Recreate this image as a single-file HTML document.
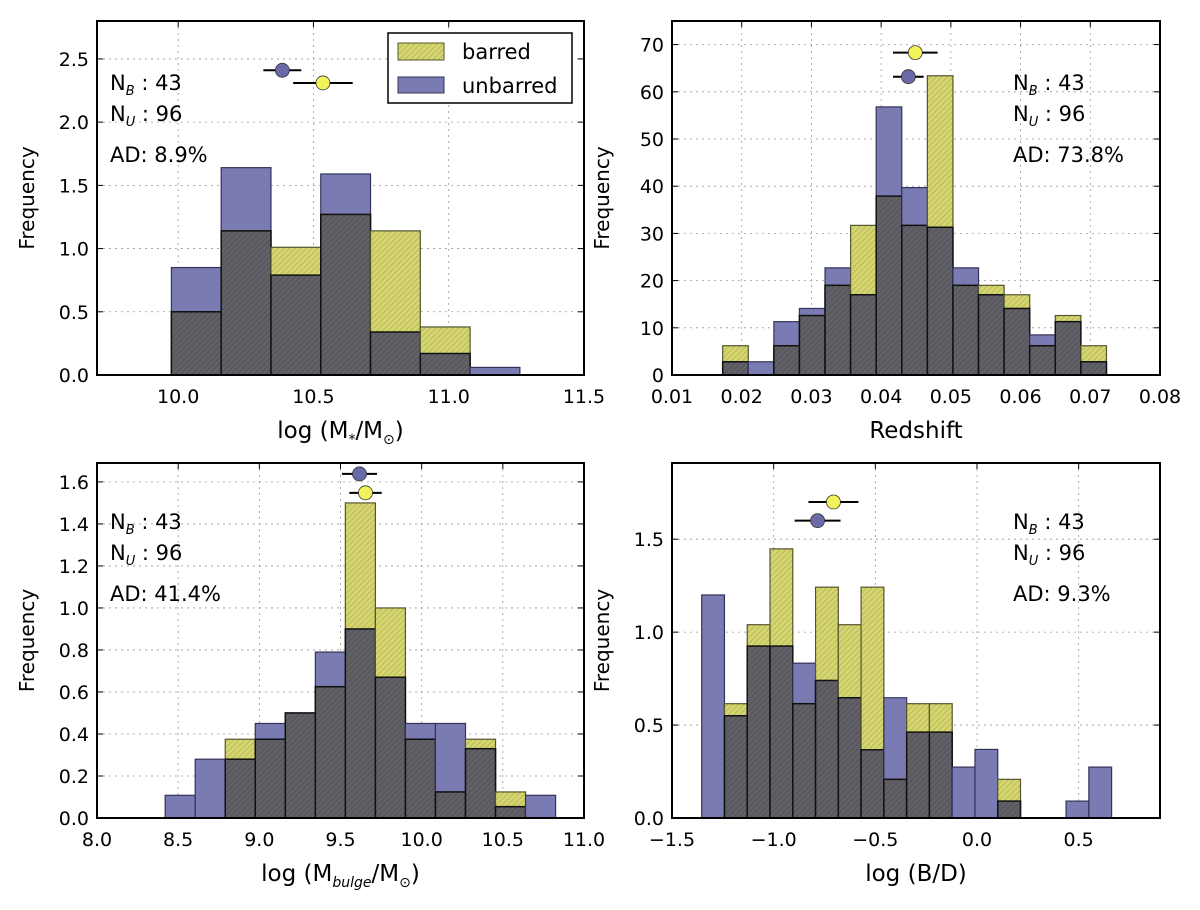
<!DOCTYPE html>
<html><head><meta charset="utf-8"><style>
body{margin:0;background:#fff}
svg{display:block;font-family:"DejaVu Sans","Liberation Sans",sans-serif}
</style></head><body>
<svg id="fig" width="1200" height="910" viewBox="0 0 1200 910" xmlns="http://www.w3.org/2000/svg">
<defs>
<pattern id="hatchY" width="4" height="4" patternUnits="userSpaceOnUse" patternTransform="rotate(45)">
<rect width="4" height="4" fill="#d6d670"/><line x1="0" y1="0" x2="0" y2="4" stroke="#a8a850" stroke-width="1.2"/></pattern>
<pattern id="hatchG" width="4" height="4" patternUnits="userSpaceOnUse" patternTransform="rotate(45)">
<rect width="4" height="4" fill="#606066"/><line x1="0" y1="0" x2="0" y2="4" stroke="#4a4a50" stroke-width="1.2"/></pattern>
</defs>
</svg>
<script>
// Panel 1: stellar mass
const p1Start = 9.975, p1Width = 0.184;
const p1Unbarred = [0.85, 1.64, 0.79, 1.59, 0.34, 0.17, 0.06];
const p1Barred = [0.50, 1.14, 1.01, 1.27, 1.14, 0.38, 0];
const p1PointsX = [10.385, 10.535];
const p1PointsY = [2.41, 2.31];
const p1Err = [0.07, 0.11];
const p1XTicks = ["10.0", "10.5", "11.0", "11.5"];
const p1YTicks = ["0.0", "0.5", "1.0", "1.5", "2.0", "2.5"];
// Panel 2: redshift
const p2Start = 0.01727, p2Width = 0.00367;
const p2Unbarred = [2.8, 2.8, 11.3, 14.1, 22.7, 17, 56.8, 39.7, 31.3, 22.7, 17, 14.1, 8.5, 11.3, 2.8];
const p2Barred = [6.2, 0, 6.2, 12.6, 19, 31.7, 37.9, 31.7, 63.4, 19, 19, 17, 6.2, 12.6, 6.2];
const p2PointsX = [0.0439, 0.0449];
const p2PointsY = [63.2, 68.3];
const p2Err = [0.0022, 0.0032];
const p2XTicks = ["0.01", "0.02", "0.03", "0.04", "0.05", "0.06", "0.07", "0.08"];
const p2YTicks = ["0", "10", "20", "30", "40", "50", "60", "70"];
// Panel 3: bulge mass
const p3Start = 8.42, p3Width = 0.185;
const p3Unbarred = [0.108, 0.28, 0.28, 0.45, 0.50, 0.79, 0.90, 0.67, 0.45, 0.45, 0.33, 0.054, 0.108];
const p3Barred = [0, 0, 0.375, 0.375, 0.50, 0.625, 1.50, 1.0, 0.375, 0.124, 0.375, 0.124, 0];
const p3PointsX = [9.617, 9.654];
const p3PointsY = [1.638, 1.548];
const p3Err = [0.108, 0.10];
const p3XTicks = ["8.0", "8.5", "9.0", "9.5", "10.0", "10.5", "11.0"];
const p3YTicks = ["0.0", "0.2", "0.4", "0.6", "0.8", "1.0", "1.2", "1.4", "1.6"];
// Panel 4: B/D
const p4Start = -1.354, p4Width = 0.112;
const p4Unbarred = [1.20, 0.55, 0.925, 0.925, 0.833, 0.74, 0.647, 0.367, 0.647, 0.462, 0.462, 0.274, 0.369, 0.091, 0, 0, 0.091, 0.274];
const p4Barred = [0, 0.615, 1.04, 1.448, 0.615, 1.242, 1.04, 1.242, 0.208, 0.615, 0.615, 0, 0, 0.208, 0, 0, 0, 0];
const p4PointsX = [-0.784, -0.706];
const p4PointsY = [1.60, 1.70];
const p4Err = [0.113, 0.123];
const p4XTicks = ["\u22121.5", "\u22121.0", "\u22120.5", "0.0", "0.5"];
const p4YTicks = ["0.0", "0.5", "1.0", "1.5"];

const NS = "http://www.w3.org/2000/svg";
const svg = document.getElementById('fig');
function mk(tag, attrs, parent) {
  const e = document.createElementNS(NS, tag);
  for (const k in attrs) e.setAttribute(k, attrs[k]);
  (parent || svg).appendChild(e);
  return e;
}

function panel(cfg) {
  const g = mk('g', {});
  
  
  const L = cfg.L, R = cfg.R, T = cfg.T, B = cfg.B;
  const xs = v => L + (v - cfg.xmin) / (cfg.xmax - cfg.xmin) * (R - L);
  const ys = v => B - (v - cfg.ymin) / (cfg.ymax - cfg.ymin) * (B - T);
  cfg.xTicks.forEach(t => {
    const v = parseFloat(t.replace('\u2212', '-')); const x = xs(v);
    const gl = mk('line', {x1: x, x2: x, y1: T, y2: B, stroke: '#999', 'stroke-width': 0.8, 'stroke-dasharray': '2,4'}, g);
    
    
    mk('line', {x1: x, x2: x, y1: B, y2: B - 6, stroke: '#000', 'stroke-width': 1}, g);
    mk('line', {x1: x, x2: x, y1: T, y2: T + 6, stroke: '#000', 'stroke-width': 1}, g);
    const tl = mk('text', {x: x, y: B + 28, 'font-size': 19, 'text-anchor': 'middle', fill: '#000'}, g);
    tl.textContent = t;
    
    
  });
  cfg.yTicks.forEach(t => {
    const v = parseFloat(t); const y = ys(v);
    const gl = mk('line', {x1: L, x2: R, y1: y, y2: y, stroke: '#999', 'stroke-width': 0.8, 'stroke-dasharray': '2,4'}, g);
    
    
    mk('line', {x1: L, x2: L + 6, y1: y, y2: y, stroke: '#000', 'stroke-width': 1}, g);
    mk('line', {x1: R, x2: R - 6, y1: y, y2: y, stroke: '#000', 'stroke-width': 1}, g);
    const tl = mk('text', {x: L - 8, y: y + 7, 'font-size': 19, 'text-anchor': 'end', fill: '#000'}, g);
    tl.textContent = t;
    
    
  });
  cfg.unbarred.forEach((u, i) => {
    const b = cfg.barred[i];
    const x0 = xs(cfg.start + i * cfg.width), x1 = xs(cfg.start + (i + 1) * cfg.width);
    if (u > 0) {
      const r = mk('rect', {x: x0, y: ys(u), width: x1 - x0, height: B - ys(u), fill: '#7b7bb3', stroke: '#33335a', 'stroke-width': 1.2}, g);
      
      
    }
    if (b > 0) {
      const r = mk('rect', {x: x0, y: ys(b), width: x1 - x0, height: B - ys(b), fill: 'url(#hatchY)', stroke: '#555530', 'stroke-width': 1.2}, g);
      
      
    }
    const m = Math.min(u, b);
    if (m > 0) {
      const r = mk('rect', {x: x0, y: ys(m), width: x1 - x0, height: B - ys(m), fill: 'url(#hatchG)', stroke: '#111', 'stroke-width': 1.5}, g);
      
      
    }
  });
  const cols = ['#6a6aa8', '#f2f25a'];
  cfg.px.forEach((px, i) => {
    const y = ys(cfg.py[i]);
    const el = mk('line', {x1: xs(px - cfg.err[i]), x2: xs(px + cfg.err[i]), y1: y, y2: y, stroke: '#000', 'stroke-width': 2}, g);
    
    
    const c = mk('circle', {cx: xs(px), cy: y, r: 7, fill: cols[i], stroke: '#333', 'stroke-width': 0.8}, g);
    
    
  });
  const fr = mk('rect', {x: L, y: T, width: R - L, height: B - T, fill: 'none', stroke: '#000', 'stroke-width': 2}, g);
  
  
  const tx = cfg.tx, ty = cfg.ty;
  const a = mk('text', {x: tx, y: ty, 'font-size': 21, fill: '#000'}, g);
  a.innerHTML = 'N<tspan font-size="13" font-style="italic" dy="5">B</tspan><tspan dy="-5"> : 43</tspan>';
  
  
  const b2 = mk('text', {x: tx, y: ty + 31, 'font-size': 21, fill: '#000'}, g);
  b2.innerHTML = 'N<tspan font-size="13" font-style="italic" dy="5">U</tspan><tspan dy="-5"> : 96</tspan>';
  
  
  const c2 = mk('text', {x: tx, y: ty + 72, 'font-size': 21, fill: '#000'}, g);
  c2.textContent = cfg.ad;
  
  
  const xl = mk('text', {x: (L + R) / 2, y: B + 63, 'font-size': 23, 'text-anchor': 'middle', fill: '#000'}, g);
  xl.innerHTML = cfg.xlabel;
  
  
  const yl = mk('text', {x: 0, y: 0, 'font-size': 20, 'text-anchor': 'middle', fill: '#000', transform: `translate(${L - 63},${(T + B) / 2}) rotate(-90)`}, g);
  yl.textContent = 'Frequency';
  
  
  return g;
}

panel({name: 'stellar-mass-panel', L: 97, R: 584, T: 21, B: 375, xmin: 9.7, xmax: 11.5, ymin: 0, ymax: 2.8,
  start: p1Start, width: p1Width, unbarred: p1Unbarred, barred: p1Barred, px: p1PointsX, py: p1PointsY, err: p1Err,
  xTicks: p1XTicks, yTicks: p1YTicks, tx: 110, ty: 90, ad: 'AD: 8.9%',
  xlabel: 'log (M<tspan font-size="14" font-style="italic" dy="6">*</tspan><tspan dy="-6">/M</tspan><tspan font-size="14" dy="6">\u2299</tspan><tspan dy="-6">)</tspan>'});
panel({name: 'redshift-panel', L: 672, R: 1160, T: 21, B: 375, xmin: 0.01, xmax: 0.08, ymin: 0, ymax: 75,
  start: p2Start, width: p2Width, unbarred: p2Unbarred, barred: p2Barred, px: p2PointsX, py: p2PointsY, err: p2Err,
  xTicks: p2XTicks, yTicks: p2YTicks, tx: 1013, ty: 90, ad: 'AD: 73.8%', xlabel: 'Redshift'});
panel({name: 'bulge-mass-panel', L: 97, R: 584, T: 463, B: 818, xmin: 8.0, xmax: 11.0, ymin: 0, ymax: 1.69,
  start: p3Start, width: p3Width, unbarred: p3Unbarred, barred: p3Barred, px: p3PointsX, py: p3PointsY, err: p3Err,
  xTicks: p3XTicks, yTicks: p3YTicks, tx: 110, ty: 529, ad: 'AD: 41.4%',
  xlabel: 'log (M<tspan font-size="14" font-style="italic" dy="6">bulge</tspan><tspan dy="-6">/M</tspan><tspan font-size="14" dy="6">\u2299</tspan><tspan dy="-6">)</tspan>'});
panel({name: 'bulge-to-disk-panel', L: 672, R: 1160, T: 463, B: 818, xmin: -1.5, xmax: 0.9, ymin: 0, ymax: 1.91,
  start: p4Start, width: p4Width, unbarred: p4Unbarred, barred: p4Barred, px: p4PointsX, py: p4PointsY, err: p4Err,
  xTicks: p4XTicks, yTicks: p4YTicks, tx: 1013, ty: 529, ad: 'AD: 9.3%', xlabel: 'log (B/D)'});

const lg = mk('g', {});


mk('rect', {x: 388, y: 33, width: 184, height: 70, fill: '#fff', stroke: '#000', 'stroke-width': 1.5}, lg);
const lp1 = mk('rect', {x: 398, y: 43, width: 46, height: 17, fill: 'url(#hatchY)', stroke: '#555530'}, lg);


const lt1 = mk('text', {x: 462, y: 59, 'font-size': 21, fill: '#000'}, lg);
lt1.textContent = 'barred';


const lp2 = mk('rect', {x: 398, y: 77, width: 46, height: 16, fill: '#7b7bb3', stroke: '#33335a'}, lg);


const lt2 = mk('text', {x: 462, y: 93, 'font-size': 21, fill: '#000'}, lg);
lt2.textContent = 'unbarred';


</script>
</body></html>
